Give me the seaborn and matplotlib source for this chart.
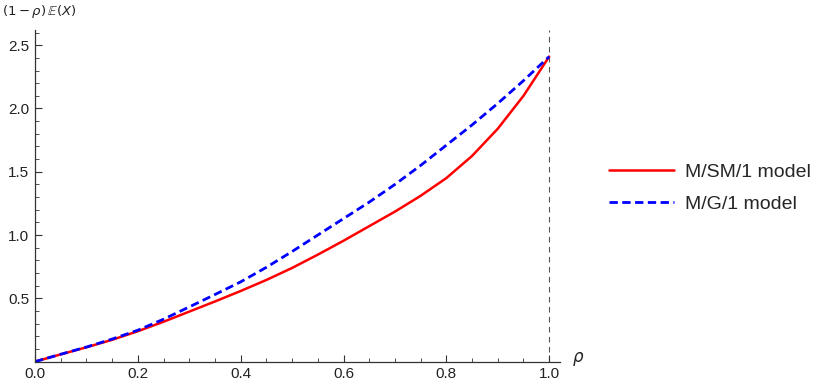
import numpy as np
import pandas as pd
import matplotlib
matplotlib.use("Agg")
import matplotlib.pyplot as plt
import seaborn as sns
from matplotlib.ticker import MultipleLocator, FixedLocator

# nilai
rho = [0.0, 0.05, 0.1, 0.15, 0.2, 0.25, 0.3, 0.35, 0.4, 0.45, 0.5,
       0.55, 0.6, 0.65, 0.7, 0.75, 0.8, 0.85, 0.9, 0.95, 1.0]
sm1 = [0.0, 0.057, 0.113, 0.172, 0.24, 0.315, 0.395, 0.475, 0.558, 0.645, 0.74,
       0.845, 0.955, 1.07, 1.185, 1.31, 1.45, 1.625, 1.84, 2.1, 2.41]
g1 = [0.0, 0.058, 0.115, 0.178, 0.248, 0.335, 0.432, 0.53, 0.63, 0.745, 0.87,
      1.0, 1.13, 1.26, 1.4, 1.55, 1.71, 1.87, 2.04, 2.22, 2.41]

df = pd.DataFrame({"rho": rho, "sm1": sm1, "g1": g1})

sns.set_style("white")
plt.rcParams["font.family"] = ["Liberation Sans", "DejaVu Sans"]
plt.rcParams["mathtext.fontset"] = "dejavusans"

fig = plt.figure(figsize=(8.3, 3.82), dpi=100)
ax = fig.add_axes([35 / 830, 20.4 / 382, 525 / 830, 331.6 / 382])

sns.lineplot(data=df, x="rho", y="sm1", ax=ax, color="#ff0000", linewidth=1.8,
             label="M/SM/1 model")
sns.lineplot(data=df, x="rho", y="g1", ax=ax, color="#0000ff", linewidth=2.0,
             label="M/G/1 model")
ax.lines[1].set_dashes((3, 1.6))

ax.axvline(1.0, color="#555555", linestyle=(0, (5, 4)), linewidth=0.8, zorder=0)

ax.set_xlim(0, 1.021)
ax.set_ylim(0, 2.62)

axis_col = "#333333"
for side in ["top", "right"]:
    ax.spines[side].set_visible(False)
for side in ["left", "bottom"]:
    ax.spines[side].set_color(axis_col)
    ax.spines[side].set_linewidth(0.9)

ax.xaxis.set_major_locator(FixedLocator([0.0, 0.2, 0.4, 0.6, 0.8, 1.0]))
ax.xaxis.set_minor_locator(MultipleLocator(0.05))
ax.yaxis.set_major_locator(FixedLocator([0.5, 1.0, 1.5, 2.0, 2.5]))
ax.yaxis.set_minor_locator(MultipleLocator(0.1))
ax.set_xticklabels(["0.0", "0.2", "0.4", "0.6", "0.8", "1.0"])
ax.set_yticklabels(["0.5", "1.0", "1.5", "2.0", "2.5"])
ax.tick_params(which="major", direction="in", length=5, width=0.8, color=axis_col,
               labelsize=11, labelcolor="#222222", pad=4,
               bottom=True, left=True)
ax.tick_params(which="minor", direction="in", length=3, width=0.6, color=axis_col,
               bottom=True, left=True)
ax.set_xlabel("")
ax.set_ylabel("")

fig.text(2 / 830, 1 - 11 / 382, r"$(1-\rho)\,\mathbb{E}(X)$", fontsize=9.5,
         va="center", ha="left", color="#222222")
fig.text(572 / 830, 1 - 359 / 382, r"$\rho$", fontsize=12, va="center",
         ha="left", color="#222222")

ax.legend_.remove()
handles, labels = ax.get_legend_handles_labels()
fig.legend(handles, labels, loc="center left", bbox_to_anchor=(591 / 830, 1 - 188 / 382),
           frameon=False, fontsize=14, handlelength=3.35, labelspacing=0.75,
           handletextpad=0.57)

fig.savefig("out.png", dpi=100)
